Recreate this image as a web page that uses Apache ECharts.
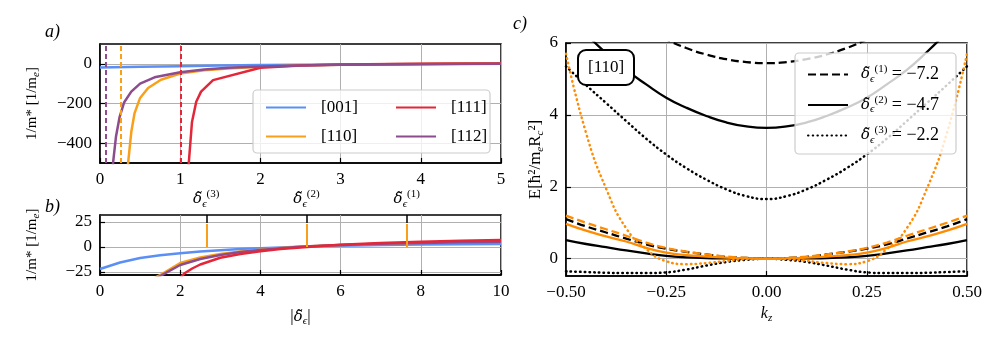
<!DOCTYPE html>
<html>
<head>
<meta charset="utf-8">
<script src="https://cdn.jsdelivr.net/npm/echarts@6/dist/echarts.min.js"></script>
<style>
  html, body { margin: 0; padding: 0; background: #fff; }
  #chart { width: 997px; height: 339px; }
</style>
</head>
<body>
<div id="chart"></div>
<script>
// ---- panel a) : 1/m* vs delta (0..5)
const a001 = [[0, -18], [0.5, -15], [1, -12], [1.5, -9], [2, -6.5], [2.5, -4.5], [3, -3], [3.5, -1.8], [4, -0.8], [4.5, 0], [5, 0.8]];
const a110 = [[0.348, -510], [0.39, -344], [0.43, -250], [0.5, -172], [0.6, -122], [0.76, -80], [1.0, -49], [1.3, -33], [1.6, -24], [2, -15], [2.5, -9], [3, -5], [3.5, -2.5], [4, -0.5], [4.5, 1.5], [5, 3]];
const a111 = [[1.105, -510], [1.147, -293], [1.2, -191], [1.26, -140], [1.41, -82], [2.0, -20], [2.5, -8], [3, -3], [4, 0], [5, 2]];
const a112 = [[0.16, -510], [0.2, -365], [0.245, -267], [0.3, -195], [0.39, -140], [0.5, -100], [0.68, -68], [1.0, -42], [1.3, -28], [1.6, -20], [2, -14], [2.5, -8], [3, -5], [4, -2], [5, 0]];
const aPoles = { '[110]': 0.258, '[111]': 1.014, '[112]': 0.066 };
const aTicksY = [-400, -200, 0];

// ---- panel b) : 1/m* vs |delta| (0..10)
const b001 = [[0, -22], [0.5, -15.5], [1, -11], [1.5, -8.2], [2, -6.3], [2.5, -4.6], [3, -3.2], [3.5, -2.1], [4, -1.2], [5, 0.2], [6, 1.2], [7, 1.9], [8, 2.4], [9, 2.7], [10, 3]];
const b110 = [[1.3, -32], [1.5, -28], [2, -16], [2.5, -10.5], [3, -7], [3.5, -4.6], [4, -2.7], [4.5, -1.1], [5, 0.3], [5.5, 1.3], [6, 2.1], [7, 3.3], [8, 4.2], [9, 5], [10, 5.6]];
const b112 = [[1.3, -33], [1.5, -29], [2, -18], [2.5, -12], [3, -8], [3.5, -5.1], [4, -3], [4.5, -1.3], [5, 0.2], [5.5, 1.2], [6, 2], [7, 3.2], [8, 4.1], [9, 4.8], [10, 5.3]];
const b111 = [[2.0, -31], [2.1, -26.5], [2.3, -21.5], [2.5, -17.5], [3, -10.8], [3.5, -6.9], [4, -4.2], [4.5, -2.1], [5, -0.4], [5.5, 1], [6, 2.2], [7, 3.9], [8, 5.2], [9, 6.2], [10, 7]];
const bTicksY = [-25, 0, 25];
const deltaMarks = [2.65, 5.15, 7.65];
const deltaSup = ['(3)', '(2)', '(1)'];
const markTop = 23;

// ---- panel c) : E(kz) for [110]
const kz = [-0.5, -0.45, -0.4, -0.35, -0.3, -0.25, -0.2, -0.15, -0.1, -0.05, 0, 0.05, 0.1, 0.15, 0.2, 0.25, 0.3, 0.35, 0.4, 0.45, 0.5];
const c1Up = [8.1, 7.6, 7.15, 6.75, 6.4, 6.1, 5.86, 5.68, 5.55, 5.47, 5.44, 5.47, 5.55, 5.68, 5.86, 6.1, 6.4, 6.75, 7.15, 7.6, 8.1];
const c2Up = [6.85, 6.25, 5.72, 5.25, 4.85, 4.48, 4.2, 3.97, 3.79, 3.68, 3.64, 3.68, 3.79, 3.97, 4.2, 4.48, 4.85, 5.25, 5.75, 6.3, 6.9];
const c3Up = [5.35, 4.83, 4.33, 3.83, 3.34, 2.9, 2.52, 2.2, 1.93, 1.74, 1.66, 1.74, 1.93, 2.2, 2.52, 2.9, 3.34, 3.83, 4.33, 4.83, 5.35];
const c1Lo = [1.1, 0.9, 0.73, 0.56, 0.4, 0.28, 0.19, 0.12, 0.05, 0.02, 0, 0.02, 0.05, 0.12, 0.19, 0.28, 0.4, 0.56, 0.73, 0.9, 1.1];
const c2Lo = [0.52, 0.41, 0.32, 0.23, 0.15, 0.08, 0.04, 0.02, 0.01, 0, 0, 0, 0.01, 0.02, 0.04, 0.08, 0.15, 0.23, 0.32, 0.41, 0.52];
const c3Lo = [-0.35, -0.37, -0.39, -0.4, -0.4, -0.38, -0.3, -0.19, -0.09, -0.03, 0, -0.03, -0.09, -0.19, -0.3, -0.38, -0.4, -0.4, -0.39, -0.37, -0.35];
const o1 = [1.2, 1.0, 0.82, 0.64, 0.45, 0.3, 0.2, 0.12, 0.06, 0.02, 0, 0.02, 0.06, 0.12, 0.2, 0.3, 0.45, 0.64, 0.82, 1.0, 1.2];
const o2 = [0.97, 0.78, 0.62, 0.48, 0.3, 0.17, 0.1, 0.06, 0.03, 0.01, 0, 0.01, 0.03, 0.06, 0.1, 0.17, 0.3, 0.48, 0.62, 0.78, 0.97];
const o3 = [5.7, 3.5, 1.95, 0.85, 0.27, -0.07, -0.15, -0.12, -0.06, -0.01, 0, -0.01, -0.06, -0.12, -0.15, -0.07, 0.27, 0.85, 1.95, 3.5, 5.7];
const cTicksY = [0, 2, 4, 6];
const cLegend = { d1: '(1)', d2: '(2)', d3: '(3)' };
const cValues = { d1: '−7.2', d2: '−4.7', d3: '−2.2' };

const FONT = 'Liberation Serif';
const BLUE = '#5b8ff5', ORANGE = '#f9a01b', RED = '#e42639', PURPLE = '#8c4c8e', ORANGE_C = '#ff8c00';

var myChart = echarts.init(document.getElementById('chart'));

const minus = v => (v < 0 ? '\u2212' + Math.abs(v) : '' + v);
const pair = arr => kz.map((k, i) => [k, arr[i]]);

// shared look of the axes (matplotlib-ish)
function axisStyle(extra) {
  return Object.assign({
    type: 'value',
    axisLine: { show: true, onZero: false, lineStyle: { color: '#000', width: 1.5 } },
    axisTick: { show: true, inside: true, length: 5, lineStyle: { color: '#000', width: 1.2 } },
    axisLabel: { color: '#000', fontFamily: FONT, fontSize: 17, margin: 8, formatter: minus },
    splitLine: { show: true, lineStyle: { color: '#b0b0b0', width: 1 } },
    nameTextStyle: { color: '#000', fontFamily: FONT, fontSize: 16 }
  }, extra);
}

const subRich = {
  d: { fontFamily: 'DejaVu Serif', fontSize: 15, fontStyle: 'italic', color: '#000' },
  e: { fontFamily: FONT, fontSize: 11, fontStyle: 'italic', color: '#000', padding: [9, 0, 0, 0] },
  p: { fontFamily: FONT, fontSize: 11, color: '#000', padding: [0, 0, 10, 0] },
  t: { fontFamily: FONT, fontSize: 18, color: '#000' },
  i: { fontFamily: FONT, fontSize: 16, fontStyle: 'italic', color: '#000' },
  n: { fontFamily: FONT, fontSize: 16, color: '#000' }
};

function line(name, data, color, xi, extra) {
  return Object.assign({
    name: name,
    type: 'line',
    xAxisIndex: xi,
    yAxisIndex: xi === 3 ? 2 : (xi === 2 ? 1 : xi),
    data: data,
    symbol: 'none',
    clip: true,
    lineStyle: { color: color, width: 2.5 },
    itemStyle: { color: color },
    z: 3
  }, extra || {});
}

function pole(x, color) {
  return {
    silent: true, symbol: 'none', label: { show: false },
    lineStyle: { color: color, type: [5, 3], width: 2 },
    data: [{ xAxis: x }]
  };
}

const deltaLabel = v => {
  const i = deltaMarks.findIndex(m => Math.abs(m - v) < 1e-6);
  return '{d|δ\u0303}{e|ϵ}{p|' + (i >= 0 ? deltaSup[i] : '') + '}';
};

const option = {
  animation: false,
  backgroundColor: '#fff',
  title: [
    { text: 'a)', left: 40, top: 18, textStyle: { fontFamily: FONT, fontStyle: 'italic', fontWeight: 'normal', fontSize: 18, color: '#000' } },
    { text: 'b)', left: 40, top: 193, textStyle: { fontFamily: FONT, fontStyle: 'italic', fontWeight: 'normal', fontSize: 18, color: '#000' } },
    { text: 'c)', left: 508, top: 10, textStyle: { fontFamily: FONT, fontStyle: 'italic', fontWeight: 'normal', fontSize: 18, color: '#000' } },
    {
      text: '[110]', left: 578, top: 50, padding: [9, 10],
      backgroundColor: '#fff', borderColor: '#000', borderWidth: 2, borderRadius: 8,
      textStyle: { fontFamily: FONT, fontWeight: 'normal', fontSize: 17, color: '#000' }
    }
  ],
  grid: [
    { left: 100, top: 44, width: 401, height: 119, show: true, borderColor: '#000', borderWidth: 1.5 },
    { left: 100, top: 215, width: 401, height: 60, show: true, borderColor: '#000', borderWidth: 1.5 },
    { left: 566, top: 43, width: 401, height: 233, show: true, borderColor: '#000', borderWidth: 1.5 }
  ],
  xAxis: [
    axisStyle({ gridIndex: 0, min: 0, max: 5, interval: 1 }),
    axisStyle({
      gridIndex: 1, min: 0, max: 10, interval: 2,
      name: '|{d|δ\u0303}{e|ϵ}|', nameLocation: 'middle', nameGap: 32,
      nameTextStyle: { rich: subRich, fontFamily: FONT, fontSize: 17, color: '#000' }
    }),
    {
      type: 'value', gridIndex: 1, position: 'top', min: 0, max: 10,
      axisLine: { show: false, onZero: false },
      splitLine: { show: false },
      axisTick: { show: true, inside: true, length: 8, customValues: deltaMarks, lineStyle: { color: '#000', width: 1.5 } },
      axisLabel: { customValues: deltaMarks, margin: 5, formatter: deltaLabel, rich: subRich }
    },
    axisStyle({
      gridIndex: 2, min: -0.5, max: 0.5, interval: 0.25,
      axisLabel: { color: '#000', fontFamily: FONT, fontSize: 17, margin: 8, formatter: v => (v < 0 ? '\u2212' : '') + Math.abs(v).toFixed(2) },
      name: '{i|k}{e|z}', nameLocation: 'middle', nameGap: 27,
      nameTextStyle: { rich: subRich, fontFamily: FONT, fontSize: 17, color: '#000' }
    })
  ],
  yAxis: [
    axisStyle({
      gridIndex: 0, min: -500, max: 100,
      axisTick: { show: true, inside: true, length: 5, customValues: aTicksY, lineStyle: { color: '#000', width: 1.2 } },
      axisLabel: { color: '#000', fontFamily: FONT, fontSize: 17, margin: 8, customValues: aTicksY, formatter: minus },
      name: '1/m* [1/m{e|e}]', nameLocation: 'middle', nameRotate: 90, nameGap: 58,
      nameTextStyle: { rich: subRich, fontFamily: FONT, fontSize: 15, color: '#000' }
    }),
    axisStyle({
      gridIndex: 1, min: -28, max: 32,
      axisTick: { show: true, inside: true, length: 5, customValues: bTicksY, lineStyle: { color: '#000', width: 1.2 } },
      axisLabel: { color: '#000', fontFamily: FONT, fontSize: 17, margin: 8, customValues: bTicksY, formatter: minus },
      name: '1/m* [1/m{e|e}]', nameLocation: 'middle', nameRotate: 90, nameGap: 58,
      nameTextStyle: { rich: subRich, fontFamily: FONT, fontSize: 15, color: '#000' }
    }),
    axisStyle({
      gridIndex: 2, min: -0.48, max: 6,
      axisTick: { show: true, inside: true, length: 5, customValues: cTicksY, lineStyle: { color: '#000', width: 1.2 } },
      axisLabel: { color: '#000', fontFamily: FONT, fontSize: 17, margin: 8, customValues: cTicksY, formatter: minus },
      name: 'E[ħ²/m{e|e}R{e|c}²]', nameLocation: 'middle', nameRotate: 90, nameGap: 20,
      nameTextStyle: { rich: subRich, fontFamily: FONT, fontSize: 17, color: '#000' }
    })
  ],
  legend: [
    {
      data: ['[001]', '[110]'], orient: 'vertical', left: 260, top: 94, itemWidth: 40, itemHeight: 14, itemGap: 12,
      itemStyle: { opacity: 0 },
      textStyle: { fontFamily: FONT, fontSize: 17, color: '#000', padding: [0, 0, 0, 10] }, z: 60
    },
    {
      data: ['[111]', '[112]'], orient: 'vertical', left: 390, top: 94, itemWidth: 40, itemHeight: 14, itemGap: 12,
      itemStyle: { opacity: 0 },
      textStyle: { fontFamily: FONT, fontSize: 17, color: '#000', padding: [0, 0, 0, 10] }, z: 60
    },
    {
      data: ['d1', 'd2', 'd3'], orient: 'vertical', left: 802, top: 59, itemWidth: 40, itemHeight: 14, itemGap: 10,
      itemStyle: { opacity: 0 },
      formatter: n => '{d|δ\u0303}{e|ϵ}{p|' + cLegend[n] + '}{t| = ' + cValues[n] + '}',
      textStyle: { rich: subRich, padding: [0, 0, 0, 8] }, z: 60
    }
  ],
  graphic: [
    { type: 'rect', z: 50, shape: { x: 253, y: 90, width: 237, height: 63, r: 4 }, style: { fill: 'rgba(255,255,255,0.8)', stroke: '#cccccc', lineWidth: 1.2 } },
    { type: 'rect', z: 50, shape: { x: 795, y: 53, width: 161, height: 101, r: 4 }, style: { fill: 'rgba(255,255,255,0.8)', stroke: '#cccccc', lineWidth: 1.2 } }
  ],
  series: [
    // a)
    line('[001]', a001, BLUE, 0),
    line('[110]', a110, ORANGE, 0, { markLine: pole(aPoles['[110]'], ORANGE) }),
    line('[111]', a111, RED, 0, { markLine: pole(aPoles['[111]'], RED) }),
    line('[112]', a112, PURPLE, 0, { markLine: pole(aPoles['[112]'], PURPLE) }),
    // b)
    line('[001]', b001, BLUE, 1),
    line('[110]', b110, ORANGE, 1, {
      markLine: {
        silent: true, symbol: 'none', label: { show: false },
        lineStyle: { color: ORANGE, type: 'solid', width: 2 },
        data: deltaMarks.map(x => [{ coord: [x, 0] }, { coord: [x, markTop] }])
      }
    }),
    line('[112]', b112, PURPLE, 1),
    line('[111]', b111, RED, 1),
    // c)
    line('d1', pair(c1Up), '#000', 3, { smooth: true, lineStyle: { color: '#000', width: 2.3, type: [8, 4] } }),
    line('d2', pair(c2Up), '#000', 3, { smooth: true, lineStyle: { color: '#000', width: 2.3 } }),
    line('d3', pair(c3Up), '#000', 3, { smooth: true, lineStyle: { color: '#000', width: 2.5, type: [0.5, 4.2], cap: 'round' } }),
    line('d1', pair(c1Lo), '#000', 3, { smooth: true, lineStyle: { color: '#000', width: 2.3, type: [8, 4] } }),
    line('d2', pair(c2Lo), '#000', 3, { smooth: true, lineStyle: { color: '#000', width: 2.3 } }),
    line('d3', pair(c3Lo), '#000', 3, { smooth: true, lineStyle: { color: '#000', width: 2.5, type: [0.5, 4.2], cap: 'round' } }),
    line('o1', pair(o1), ORANGE_C, 3, { smooth: true, lineStyle: { color: ORANGE_C, width: 2.3, type: [8, 4] } }),
    line('o2', pair(o2), ORANGE_C, 3, { smooth: true, lineStyle: { color: ORANGE_C, width: 2.3 } }),
    line('o3', pair(o3), ORANGE_C, 3, { smooth: true, lineStyle: { color: ORANGE_C, width: 2.5, type: [0.5, 4.2], cap: 'round' } })
  ]
};

myChart.setOption(option);
</script>
</body>
</html>
